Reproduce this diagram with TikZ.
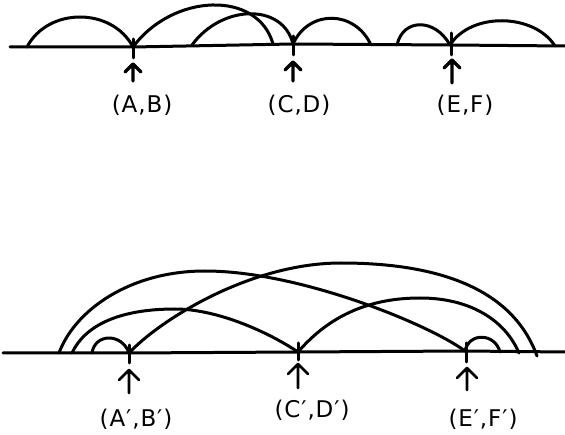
\documentclass[tikz,border=0pt]{standalone}
\usepackage{fontspec}
\setmainfont{DejaVu Sans}
\newfontfamily\lblfont[LetterSpace=4]{DejaVu Sans}
\tikzset{
  baseline line/.style={line width=3pt},
  arcline/.style={line width=3pt},
  tickline/.style={line width=3pt},
  uparrow/.style={line width=3.2pt},
  uparrowb/.style={line width=2.8pt},
  lbl/.style={font=\lblfont\fontsize{23}{27}\selectfont, inner sep=0pt}
}
\begin{document}
\begin{tikzpicture}[x=1pt,y=-1pt,line cap=round,line join=round]
\useasboundingbox (0,0) rectangle (565,435);
% ---------- top ----------
\coordinate (tL) at (10,47);
\coordinate (A) at (133,47);
\coordinate (C) at (293,44);
\coordinate (E) at (450,45);
\coordinate (tR) at (565,46);
\draw[baseline line] (tL) -- (A) -- (C) -- (E) -- (tR);
% arcs
\coordinate (t1) at (27,47);
\coordinate (t2) at (273,44);
\coordinate (t3) at (192,45);
\coordinate (t4) at (371,45);
\coordinate (t5) at (397,45);
\coordinate (t6) at (555,46);
\draw[arcline] (t1) .. controls +(21,-40) and +(-21,-40) .. (A);
\draw[arcline] (A) .. controls +(40,-54) and +(-15,-54) .. (t2);
\draw[arcline] (t3) .. controls +(30,-41) and +(-10,-41) .. (C);
\draw[arcline] (C) .. controls +(16,-35) and +(-16,-35) .. (t4);
\draw[arcline] (t5) .. controls +(6,-27) and +(-15,-27) .. (E);
\draw[arcline] (E) .. controls +(21,-33) and +(-21,-33) .. (t6);
% ticks
\coordinate (Aa) at (133,39); \coordinate (Ab) at (133,58);
\coordinate (Ca) at (293,36); \coordinate (Cb) at (293,55);
\coordinate (Ea) at (451,33); \coordinate (Eb) at (451,55);
\draw[tickline] (Aa) -- (Ab);
\draw[tickline] (Ca) -- (Cb);
\draw[tickline] (Ea) -- (Eb);
% arrows
\coordinate (Aq) at (133,81); \coordinate (Ap) at (133,64);
\coordinate (Cq) at (293,81); \coordinate (Cp) at (293,62);
\coordinate (Eq) at (452,83); \coordinate (Ep) at (452,60);
\draw[uparrow] (Aq) -- (Ap) ++(-8,8) -- (Ap) -- ++(8,8);
\draw[uparrow] (Cq) -- (Cp) ++(-8,8) -- (Cp) -- ++(8,8);
\draw[uparrow] (Eq) -- (Ep) ++(-8,8) -- (Ep) -- ++(8,8);
% labels
\node[lbl] (labAB) at (142,105) {(A,B)};
\node[lbl] (labCD) at (299,105) {(C,D)};
\node[lbl] (labEF) at (465,105) {(E,F)};
% ---------- bottom ----------
\coordinate (bL) at (3,353);
\coordinate (Ap2) at (129,353);
\coordinate (Cp2) at (298,352);
\coordinate (Ep2) at (465,351);
\coordinate (bR) at (565,352);
\draw[baseline line] (bL) -- (Ap2) -- (Cp2) -- (Ep2) -- (bR);
\coordinate (b1) at (59,353);
\coordinate (b2) at (72,353);
\coordinate (b3) at (537,356);
\coordinate (b4) at (519,353);
\coordinate (b5) at (92,353);
\coordinate (b6) at (500,352);
\coordinate (pk1) at (205,271);
\coordinate (pk2) at (175,309);
\coordinate (pk3) at (341,263);
\coordinate (pk4) at (420,298);
% big arcs
\draw[arcline] (b1) .. controls (75,310) and (130,271) .. (pk1)
                    .. controls (300,271) and (430,325) .. (Ep2);
\draw[arcline] (b2) .. controls (85,325) and (120,309) .. (pk2)
                    .. controls (215,309) and (265,330) .. (Cp2);
\draw[arcline] (Ap2) .. controls (160,320) and (250,263) .. (pk3)
                     .. controls (450,263) and (515,295) .. (b3);
\draw[arcline] (Cp2) .. controls (330,315) and (370,298) .. (pk4)
                     .. controls (470,298) and (505,320) .. (b4);
% small arcs
\draw[arcline] (b5) .. controls +(3,-20) and +(-7,-20) .. (Ap2);
\draw[arcline] (Ep2) .. controls +(4,-19) and +(-5,-19) .. (b6);
% ticks
\coordinate (A2a) at (129,345); \coordinate (A2b) at (129,363);
\coordinate (C2a) at (298,343); \coordinate (C2b) at (298,360);
\coordinate (E2a) at (466,343); \coordinate (E2b) at (466,362);
\draw[tickline] (A2a) -- (A2b);
\draw[tickline] (C2a) -- (C2b);
\draw[tickline] (E2a) -- (E2b);
% arrows
\coordinate (A2q) at (129,393); \coordinate (A2p) at (129,370);
\coordinate (C2q) at (298,388); \coordinate (C2p) at (298,364);
\coordinate (E2q) at (467,390); \coordinate (E2p) at (467,368);
\draw[uparrowb] (A2q) -- (A2p) ++(-10,10) -- (A2p) -- ++(10,10);
\draw[uparrowb] (C2q) -- (C2p) ++(-10,10) -- (C2p) -- ++(10,10);
\draw[uparrowb] (E2q) -- (E2p) ++(-10,10) -- (E2p) -- ++(10,10);
% labels
\node[lbl] (labAB2) at (136,419) {(A′,B′)};
\node[lbl] (labCD2) at (312,410) {(C′,D′)};
\node[lbl] (labEF2) at (483,419) {(E′,F′)};
\end{tikzpicture}
\end{document}
